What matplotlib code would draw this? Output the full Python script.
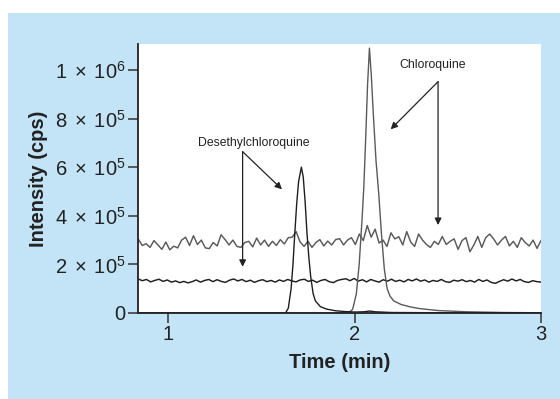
import numpy as np
import matplotlib
matplotlib.use("Agg")
import matplotlib.pyplot as plt
from matplotlib.patches import Rectangle

plt.rcParams['font.family'] = ['Liberation Sans', 'DejaVu Sans']
plt.rcParams['mathtext.fontset'] = 'custom'
plt.rcParams['mathtext.rm'] = 'Liberation Sans'
plt.rcParams['mathtext.it'] = 'Liberation Sans:italic'
plt.rcParams['mathtext.bf'] = 'Liberation Sans:bold'

# ---- data (intensity in units of 1e5 cps) ----
gray_noise = [3.05, 2.78, 2.85, 2.70, 2.98, 2.80, 2.62, 2.92, 2.60, 2.75, 2.68, 3.00, 3.12,
              2.78, 3.18, 2.82, 3.00, 2.68, 2.65, 2.90, 2.76, 3.22, 3.02, 2.80, 3.00, 2.74,
              2.70, 2.90, 2.95, 2.72, 3.08, 2.80, 3.00, 2.74, 2.95, 2.78, 3.02, 2.84, 3.10,
              3.12, 3.35, 2.92, 2.74, 2.95, 2.70, 2.90, 3.02, 2.76, 2.96, 2.80, 3.02, 3.06,
              2.80, 3.00, 3.10, 2.82, 3.25, 2.98, 3.60, 3.12, 3.45, 2.88, 3.00, 2.74, 3.30,
              3.05, 3.14, 2.80, 3.35, 2.92, 2.74, 3.25, 3.00, 2.82, 2.70, 2.95, 2.82, 3.15,
              2.82, 2.95, 3.05, 2.62, 2.98, 3.10, 2.52, 2.80, 3.15, 2.70, 3.10, 3.25, 3.05,
              2.80, 3.00, 3.15, 2.76, 2.95, 2.70, 3.10, 2.90, 2.76, 3.00, 2.66, 2.98]
black_noise = [1.40, 1.33, 1.38, 1.28, 1.34, 1.39, 1.30, 1.36, 1.27, 1.32, 1.25, 1.30, 1.24,
               1.29, 1.36, 1.27, 1.34, 1.38, 1.29, 1.37, 1.30, 1.26, 1.35, 1.40, 1.32, 1.38,
               1.29, 1.35, 1.26, 1.33, 1.37, 1.29, 1.34, 1.27, 1.36, 1.30, 1.38, 1.32, 1.28,
               1.36, 1.39, 1.30, 1.35, 1.26, 1.34, 1.38, 1.29, 1.25, 1.34, 1.38, 1.41, 1.33,
               1.42, 1.31, 1.37, 1.28, 1.38, 1.32, 1.27, 1.37, 1.31, 1.39, 1.30, 1.35, 1.28,
               1.38, 1.32, 1.40, 1.31, 1.36, 1.27, 1.34, 1.30, 1.38, 1.29, 1.26, 1.35, 1.31,
               1.37, 1.29, 1.34, 1.27, 1.38, 1.30, 1.36, 1.26, 1.22, 1.30, 1.37, 1.31, 1.40,
               1.32, 1.38, 1.29, 1.26, 1.33, 1.29, 1.27]

desethyl_t = [0.84, 1.60, 1.63, 1.645, 1.66, 1.67, 1.68, 1.69, 1.70, 1.715, 1.725, 1.735,
              1.745, 1.755, 1.765, 1.778, 1.79, 1.817, 1.85, 1.90, 1.95, 2.00, 2.05, 2.08,
              2.11, 2.20, 2.50, 3.00]
desethyl_y = [0.0, 0.0, 0.0, 0.2, 1.0, 2.0, 3.3, 4.5, 5.4, 6.0, 5.6, 4.6,
              3.3, 2.3, 1.5, 0.8, 0.5, 0.26, 0.16, 0.09, 0.06, 0.04, 0.05, 0.08,
              0.05, 0.02, 0.01, 0.0]

chloro_t = [0.84, 1.90, 1.97, 1.99, 2.01, 2.025, 2.04, 2.05, 2.06, 2.07, 2.08, 2.09, 2.10,
            2.115, 2.13, 2.145, 2.16, 2.175, 2.19, 2.21, 2.25, 2.30, 2.35, 2.45, 2.60,
            2.80, 3.00]
chloro_y = [0.0, 0.0, 0.02, 0.15, 0.8, 2.0, 3.8, 5.2, 7.2, 9.4, 10.9, 9.8, 8.3,
            6.3, 4.9, 3.2, 1.8, 1.0, 0.7, 0.5, 0.35, 0.25, 0.18, 0.1, 0.05,
            0.02, 0.01]

xticks = [1, 2, 3]
yticks = [0, 2e5, 4e5, 6e5, 8e5, 1e6]
ytick_labels = ['0', r'$\mathregular{2\;\times\;10^5}$', r'$\mathregular{4\;\times\;10^5}$',
                r'$\mathregular{6\;\times\;10^5}$', r'$\mathregular{8\;\times\;10^5}$',
                r'$\mathregular{1\;\times\;10^6}$']

scale = 1e5
fig = plt.figure(figsize=(5.6, 3.99), dpi=100, facecolor='white')
fig.patches.append(Rectangle((8/560, 0), 1, (399-13)/399, transform=fig.transFigure,
                             facecolor='#c3e4f6', edgecolor='none', zorder=-10))
ax = fig.add_axes([138/560, 1-313/399, (541-138)/560, (313-44)/399])
ax.set_facecolor('white')

gray_c = '#5a5a5a'
black_c = '#1e1e1e'
t_g = np.linspace(0.84, 3.0, len(gray_noise))
t_b = np.linspace(0.84, 3.0, len(black_noise))
ax.plot(t_g, np.array(gray_noise)*scale, color=gray_c, lw=1.05)
ax.plot(t_b, np.array(black_noise)*scale, color=black_c, lw=1.05)
ax.plot(chloro_t, np.array(chloro_y)*scale, color=gray_c, lw=1.0)
ax.plot(desethyl_t, np.array(desethyl_y)*scale, color=black_c, lw=1.0)

ax.set_xlim(0.839, 3.0)
ax.set_ylim(0, 1.107e6)
ax.set_xticks(xticks)
ax.set_xticklabels([str(v) for v in xticks])
ax.set_yticks(yticks)
ax.set_yticklabels(ytick_labels)
for s in ['top', 'right']:
    ax.spines[s].set_visible(False)
for s in ['left', 'bottom']:
    ax.spines[s].set_linewidth(1.3)
    ax.spines[s].set_color('#222222')
ax.tick_params(axis='both', direction='out', length=7, width=1.1, color='#333333',
               labelsize=14.5, labelcolor='#222222', pad=2)

ax.set_xlabel('Time (min)', fontsize=14.5, fontweight='bold', color='#222222')
ax.set_ylabel('Intensity (cps)', fontsize=14.5, fontweight='bold', color='#222222')
ax.xaxis.label.set_va('center')
ax.yaxis.label.set_va('center')
ax.xaxis.set_label_coords(0.5, (313-362)/269)
ax.yaxis.set_label_coords((39-138)/403, 0.5)

aprops = dict(arrowstyle='-|>', mutation_scale=10, lw=0.9, color='#222222',
              shrinkA=0, shrinkB=0)
ax.text(1.46, 7.0e5, 'Desethylchloroquine', fontsize=8.8, ha='center', va='center',
        color='#222222')
ax.annotate('', xy=(1.40, 1.9e5), xytext=(1.40, 6.64e5), arrowprops=aprops)
ax.annotate('', xy=(1.611, 5.09e5), xytext=(1.40, 6.64e5), arrowprops=aprops)
ax.text(2.42, 1.02e6, 'Chloroquine', fontsize=8.8, ha='center', va='center',
        color='#222222')
ax.annotate('', xy=(2.448, 3.62e5), xytext=(2.448, 9.52e5), arrowprops=aprops)
ax.annotate('', xy=(2.194, 7.56e5), xytext=(2.448, 9.52e5), arrowprops=aprops)

fig.savefig('out.png', dpi=100, facecolor='white')
